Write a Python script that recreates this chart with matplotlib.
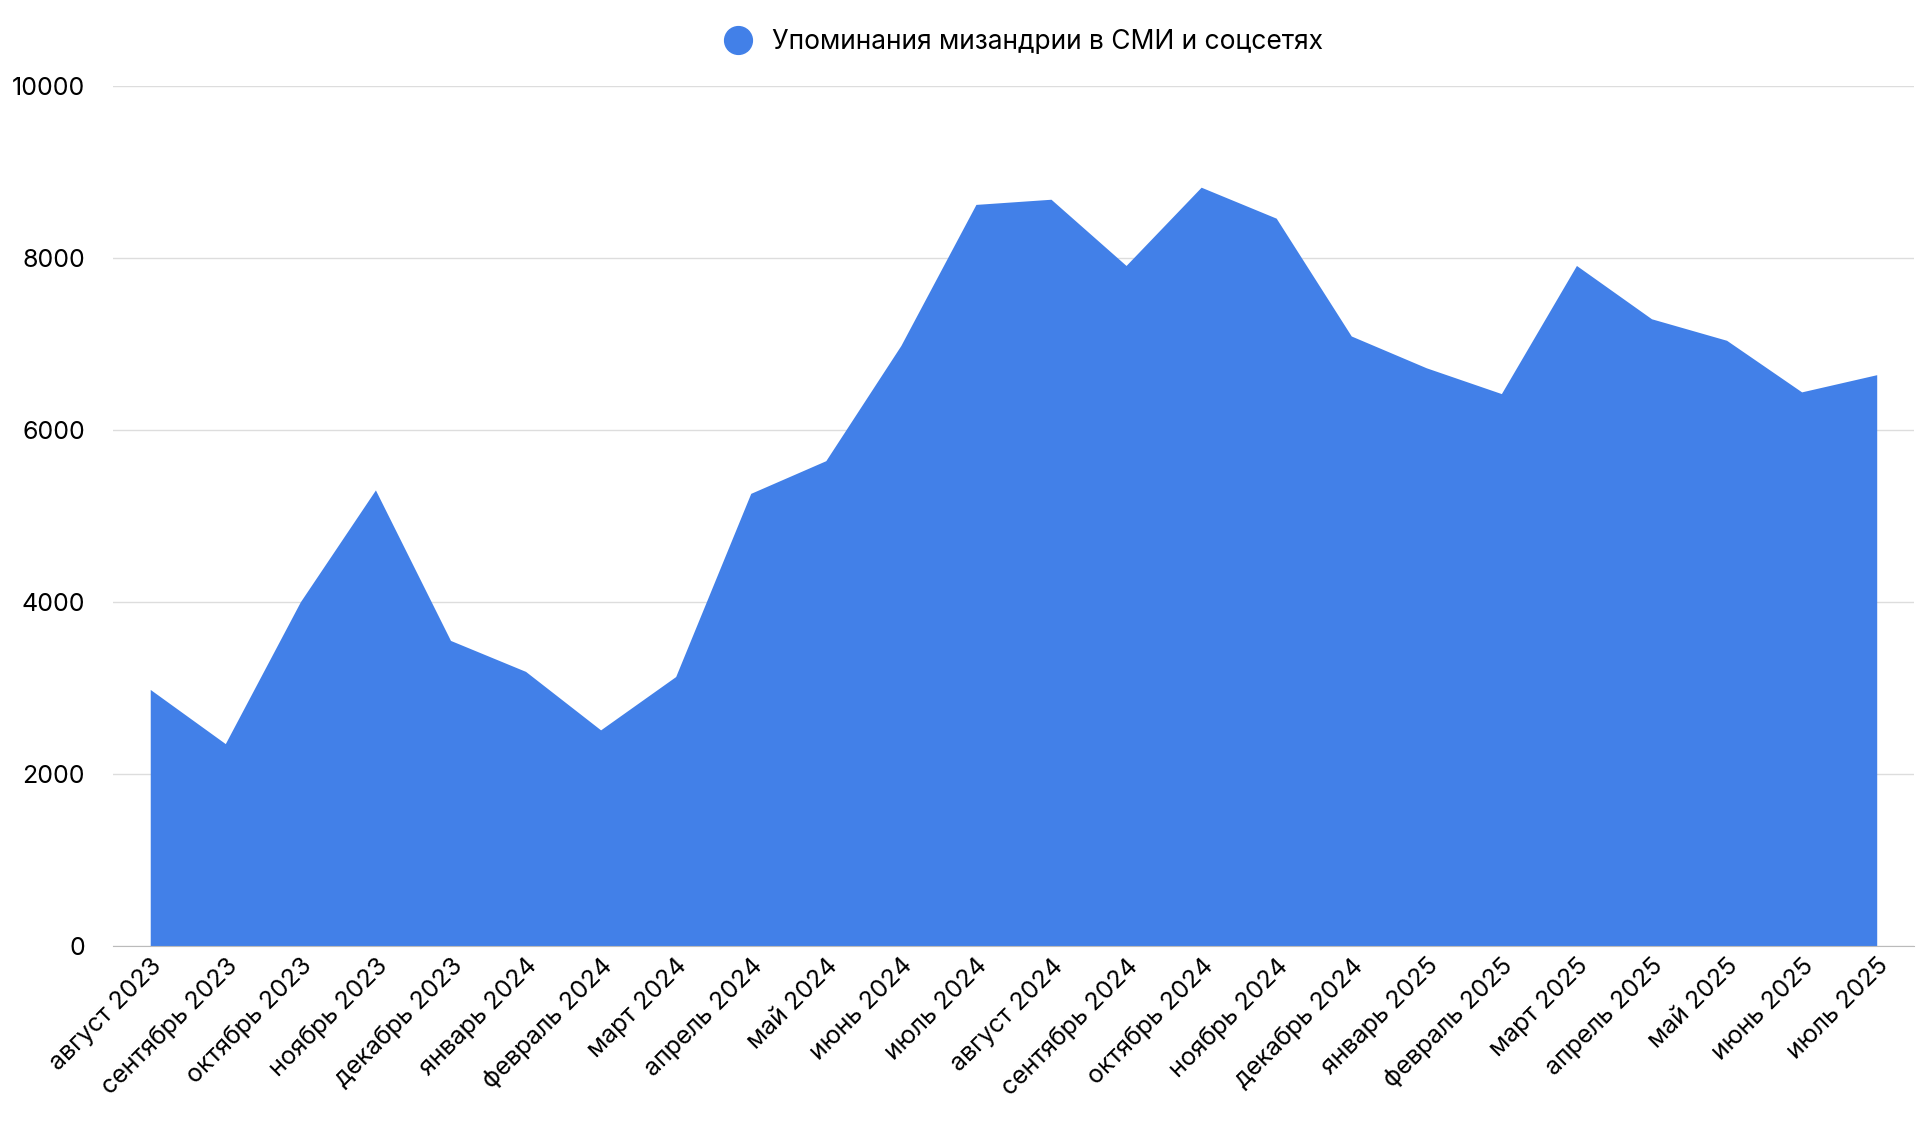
import matplotlib
matplotlib.use("Agg")
import matplotlib.pyplot as plt
from matplotlib.lines import Line2D

months = ["август 2023","сентябрь 2023","октябрь 2023","ноябрь 2023","декабрь 2023",
          "январь 2024","февраль 2024","март 2024","апрель 2024","май 2024","июнь 2024",
          "июль 2024","август 2024","сентябрь 2024","октябрь 2024","ноябрь 2024",
          "декабрь 2024","январь 2025","февраль 2025","март 2025","апрель 2025",
          "май 2025","июнь 2025","июль 2025"]
values = [2980,2350,4000,5300,3550,3190,2510,3130,5260,5640,6980,8620,8680,7910,
          8820,8460,7090,6720,6420,7910,7290,7040,6440,6640]
series_name = "Упоминания мизандрии в СМИ и соцсетях"
color = "#4280E8"

plt.rcParams['font.family'] = ['Inter', 'DejaVu Sans']
fig = plt.figure(figsize=(19.2, 11.43), dpi=100)
ax = fig.add_axes([0.0587, 0.1726, 0.9383, 0.7524])
x = list(range(len(values)))
ax.fill_between(x, values, 0, color=color, linewidth=0)
ax.set_xlim(-0.5, len(values) - 0.5)
ax.set_ylim(0, 10000)
ax.set_yticks([0, 2000, 4000, 6000, 8000, 10000])
ax.set_yticklabels(["0", "2000", "4000", "6000", "8000", "10000"])
ax.grid(axis='y', color='#dddddd', linewidth=1)
ax.set_axisbelow(True)
for s in ['top', 'right', 'left']:
    ax.spines[s].set_visible(False)
ax.spines['bottom'].set_color('#bbbbbb')
ax.tick_params(axis='y', length=0, labelsize=18, pad=20)
ax.tick_params(axis='x', length=0, labelsize=18, pad=6)
ax.set_xticks(x)
ax.set_xticklabels(months, rotation=45, ha='right', rotation_mode='anchor')
handle = Line2D([], [], marker='o', linestyle='none', markersize=20, color=color)
fig.legend([handle], [series_name], loc='upper center', bbox_to_anchor=(0.53, 0.995),
           frameon=False, fontsize=19, handletextpad=0.3)
fig.savefig("out.png", dpi=100)
